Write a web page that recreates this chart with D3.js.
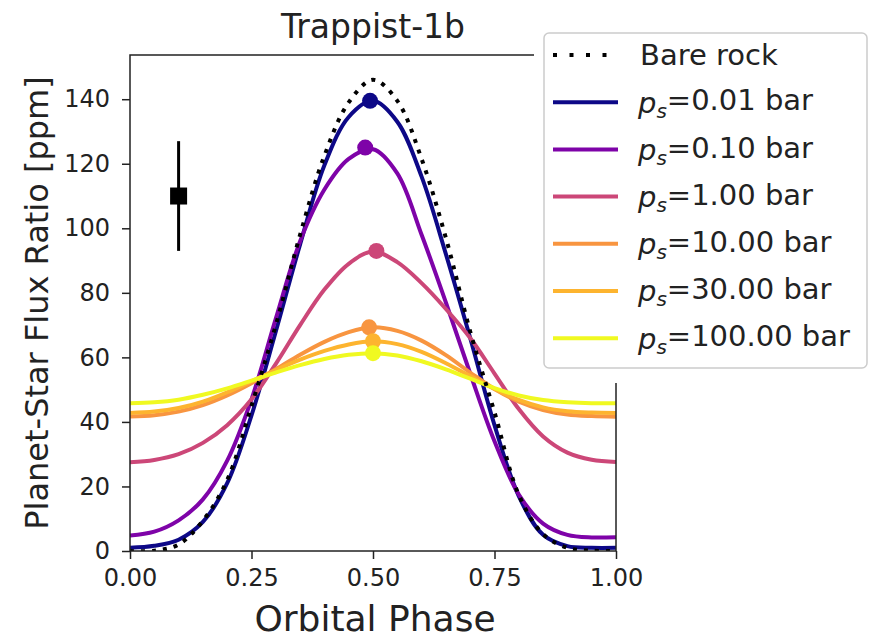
<!DOCTYPE html>
<html>
<head>
<meta charset="utf-8">
<script src="https://cdn.jsdelivr.net/npm/d3@7"></script>
<style>
  body { margin: 0; background: #fff; }
  text { font-family: "DejaVu Sans", sans-serif; fill: #222; }
</style>
</head>
<body>
<svg id="chart" width="871" height="644"></svg>
<script>
// phase samples shared by every curve
const phase = [0, 0.05, 0.10, 0.15, 0.20, 0.25, 0.30, 0.35, 0.40, 0.45, 0.50,
  0.55, 0.60, 0.65, 0.70, 0.75, 0.80, 0.85, 0.90, 0.95, 1.00];

const bareRock = [0, 0.1, 2, 9.4, 22, 45, 70, 98, 122.5, 139, 146,
  139.5, 121.5, 97, 68, 43, 17.4, 5.2, 1, 0.1, 0];

const seriesNames = ["0.01", "0.10", "1.00", "10.00", "30.00", "100.00"];
const seriesColors = ["#0d0887", "#7e03a8", "#cc4778", "#f89540", "#fdb42f", "#f0f921"];
const flux001 = [1, 1.6, 3.5, 9, 21, 42, 68, 95, 119.5, 134.5, 139.5,
  133, 116, 92, 66, 39, 17, 5, 1.5, 1, 1];
const flux010 = [4.8, 6, 9.5, 16, 28, 47, 72, 96, 112, 121.5, 124.5,
  117, 98, 77, 55, 34, 17.5, 8.5, 5, 4.2, 4.3];
const flux1 = [27.5, 28.2, 30, 33.5, 39, 47, 58, 70, 81, 89, 92.8,
  89.5, 83, 75, 66, 55, 44, 35.5, 30.5, 28.3, 27.6];
const flux10 = [41.7, 42.1, 43.2, 45.2, 48.2, 52, 56.3, 60.8, 64.8, 67.8, 69.3,
  68.2, 65.2, 60.7, 55.3, 50.2, 46.3, 43.7, 42.3, 41.8, 41.6];
const flux30 = [42.8, 43.2, 44.3, 46.3, 49.2, 52.6, 56.1, 59.3, 62, 64, 65,
  64.1, 61.7, 58.2, 54.2, 50.2, 46.8, 44.5, 43.3, 42.9, 42.8];
const flux100 = [45.8, 46.1, 46.9, 48.4, 50.4, 52.8, 55.3, 57.6, 59.5, 60.8, 61.3,
  60.6, 58.8, 56.3, 53.4, 50.5, 48.2, 46.8, 46.1, 45.8, 45.8];
const allFlux = [flux001, flux010, flux1, flux10, flux30, flux100];

// peak markers
const peakPhase = [0.494, 0.484, 0.507, 0.492, 0.500, 0.500];
const peakFlux = [139.5, 125, 93, 69.3, 65, 61.3];

// observed point
const obsPhase = [0.1];
const obsFlux = [110];
const obsErr = [17];

const xTicks = [0, 0.25, 0.5, 0.75, 1.0];
const yTicks = [0, 20, 40, 60, 80, 100, 120, 140];

const svg = d3.select("#chart");
const margin = { top: 55, left: 130, right: 255, bottom: 93 };
const W = +svg.attr("width"), H = +svg.attr("height");

const x = d3.scaleLinear().domain([0, 1]).range([margin.left, W - margin.right]);
const y = d3.scaleLinear().domain([0, 153.7]).range([H - margin.bottom, margin.top]);

svg.append("clipPath").attr("id", "clip")
  .append("rect")
  .attr("x", x(0)).attr("y", y(153.7))
  .attr("width", x(1) - x(0)).attr("height", y(0) - y(153.7));

const line = d3.line()
  .x(d => x(d[0]))
  .y(d => y(d[1]))
  .curve(d3.curveCatmullRom);

const plot = svg.append("g").attr("clip-path", "url(#clip)");

// atmosphere curves
allFlux.forEach((vals, i) => {
  plot.append("path")
    .attr("d", line(phase.map((p, j) => [p, vals[j]])))
    .attr("fill", "none")
    .attr("stroke", seriesColors[i])
    .attr("stroke-width", 4);
});

// bare rock dotted
plot.append("path")
  .attr("d", line(phase.map((p, j) => [p, bareRock[j]])))
  .attr("fill", "none")
  .attr("stroke", "#000")
  .attr("stroke-width", 4)
  .attr("stroke-dasharray", "4,7");

// peak markers
plot.selectAll("circle.peak")
  .data(peakPhase.map((p, i) => ({ p, f: peakFlux[i], c: seriesColors[i] })))
  .join("circle")
  .attr("class", "peak")
  .attr("cx", d => x(d.p))
  .attr("cy", d => y(d.f))
  .attr("r", 8)
  .attr("fill", d => d.c);

// error bar point
obsPhase.forEach((p, i) => {
  svg.append("line")
    .attr("x1", x(p)).attr("x2", x(p))
    .attr("y1", y(obsFlux[i] - obsErr[i])).attr("y2", y(obsFlux[i] + obsErr[i]))
    .attr("stroke", "#000").attr("stroke-width", 3);
  svg.append("rect")
    .attr("x", x(p) - 8.5).attr("y", y(obsFlux[i]) - 8.5)
    .attr("width", 17).attr("height", 17)
    .attr("fill", "#000");
});

// axes
const xAxis = svg.append("g")
  .attr("transform", "translate(0," + y(0) + ")")
  .call(d3.axisBottom(x).tickValues(xTicks).tickFormat(d3.format(".2f"))
    .tickSize(8).tickSizeOuter(0).tickPadding(10));
const yAxis = svg.append("g")
  .attr("transform", "translate(" + x(0) + ",0)")
  .call(d3.axisLeft(y).tickValues(yTicks).tickSize(8).tickSizeOuter(0).tickPadding(12));
[xAxis, yAxis].forEach(g => {
  g.select(".domain").remove();
  g.selectAll(".tick line").attr("stroke", "#222").attr("stroke-width", 1.5);
  g.selectAll(".tick text")
    .attr("font-size", 24)
    .attr("font-family", "DejaVu Sans, sans-serif")
    .attr("fill", "#222");
});

// spines
svg.append("rect")
  .attr("x", x(0)).attr("y", y(153.7))
  .attr("width", x(1) - x(0)).attr("height", y(0) - y(153.7))
  .attr("fill", "none")
  .attr("stroke", "#222")
  .attr("stroke-width", 1.5);

// titles
svg.append("text")
  .attr("x", (x(0) + x(1)) / 2).attr("y", 38)
  .attr("text-anchor", "middle")
  .attr("font-size", 33)
  .text("Trappist-1b");

svg.append("text")
  .attr("x", (x(0) + x(1)) / 2 + 2).attr("y", 631)
  .attr("text-anchor", "middle")
  .attr("font-size", 36)
  .text("Orbital Phase");

svg.append("text")
  .attr("transform", "translate(48," + (y(0) + y(153.7)) / 2 + ") rotate(-90)")
  .attr("text-anchor", "middle")
  .attr("font-size", 32)
  .text("Planet-Star Flux Ratio [ppm]");

// legend (covers the right spine)
svg.append("rect")
  .attr("x", 534).attr("y", 22).attr("width", W - 534).attr("height", 361)
  .attr("fill", "#fff");
const legend = svg.append("g");
legend.append("rect")
  .attr("x", 544).attr("y", 33).attr("width", 323).attr("height", 335)
  .attr("rx", 5)
  .attr("fill", "#fff")
  .attr("stroke", "#cccccc")
  .attr("stroke-width", 1.5);

const rowY = d => 55 + d * 47.2;
legend.append("line")
  .attr("x1", 553).attr("x2", 618).attr("y1", rowY(0)).attr("y2", rowY(0))
  .attr("stroke", "#000").attr("stroke-width", 4)
  .attr("stroke-dasharray", "4,12.5");
legend.append("text")
  .attr("x", 640).attr("y", rowY(0)).attr("dy", "0.36em")
  .attr("font-size", 29)
  .text("Bare rock");

seriesNames.forEach((name, i) => {
  const yy = rowY(i + 1);
  legend.append("line")
    .attr("x1", 553).attr("x2", 618).attr("y1", yy).attr("y2", yy)
    .attr("stroke", seriesColors[i]).attr("stroke-width", 4);
  const t = legend.append("text")
    .attr("x", 638).attr("y", yy).attr("dy", "0.36em")
    .attr("font-size", 29);
  t.append("tspan").attr("font-style", "italic").text("p");
  t.append("tspan").attr("font-style", "italic").attr("font-size", 20)
    .attr("dy", "0.25em").text("s");
  t.append("tspan").attr("dy", "-0.25em").attr("font-size", 29).text("=" + name + " bar");
});
</script>
</body>
</html>
